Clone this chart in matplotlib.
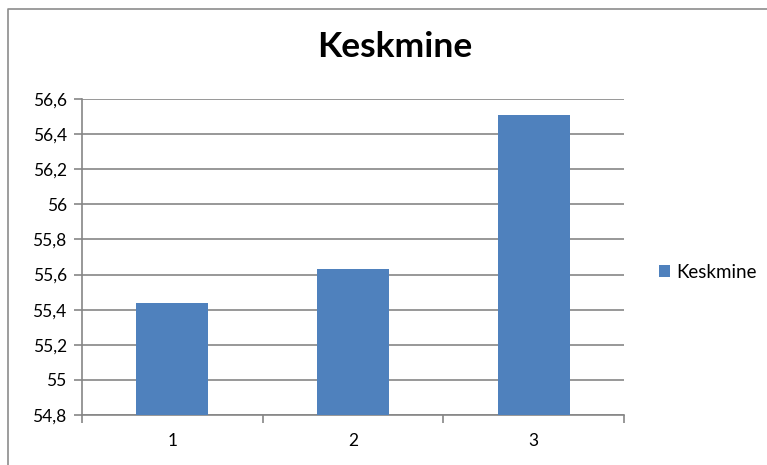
import matplotlib.pyplot as plt
from matplotlib.lines import Line2D
from matplotlib.ticker import FuncFormatter

categories = ['1', '2', '3']
values = [55.44, 55.63, 56.51]
series_name = 'Keskmine'
y_ticks = [54.8, 55.0, 55.2, 55.4, 55.6, 55.8, 56.0, 56.2, 56.4, 56.6]

plt.rcParams['font.family'] = ['Lato', 'DejaVu Sans']

W, H = 767, 465
fig = plt.figure(figsize=(W / 100, H / 100), dpi=100)

# outer chart frame: only the top and left edges are inside the picture
fig.lines.append(Line2D([8 / W, 8 / W, 1.0], [0.0, 1 - 9 / H, 1 - 9 / H],
                        transform=fig.transFigure, color='#8c8c8c', linewidth=1.2))

ax = fig.add_axes([82 / W, (H - 415) / H, (624 - 82) / W, (415 - 99) / H])

pos = [i + 0.5 for i in range(len(categories))]
ax.bar(pos, values, width=0.4, color='#4F81BD', zorder=3, label=series_name)
ax.set_xlim(0, len(categories))
ax.set_ylim(y_ticks[0], y_ticks[-1])

ax.set_yticks(y_ticks)
ax.yaxis.set_major_formatter(FuncFormatter(lambda v, p: ('%g' % round(v, 1)).replace('.', ',')))
ax.grid(axis='y', color='#868686', linewidth=1.2, zorder=0)

ax.set_xticks(range(len(categories) + 1))
ax.set_xticklabels([])
ax.set_xticks(pos, minor=True)
ax.set_xticklabels(categories, minor=True)
ax.tick_params(axis='x', which='major', length=6, color='#868686', width=1.2)
ax.tick_params(axis='x', which='minor', length=0, pad=13, labelsize=12.5)
ax.tick_params(axis='y', length=6, color='#868686', width=1.2, labelsize=12.5, pad=5)

for s in ['top', 'right']:
    ax.spines[s].set_visible(False)
for s in ['left', 'bottom']:
    ax.spines[s].set_color('#868686')
    ax.spines[s].set_linewidth(1.2)

fig.text(395 / W, 1 - 47 / H, 'Keskmine', ha='center', va='center',
         fontsize=25.5, fontweight='bold')

ax.legend(loc='center left', bbox_to_anchor=(642 / W, 1 - 272 / H),
          bbox_transform=fig.transFigure, frameon=False, fontsize=13.5,
          handlelength=0.6, handleheight=0.6, handletextpad=0.35)

fig.savefig('out.png', dpi=100)
